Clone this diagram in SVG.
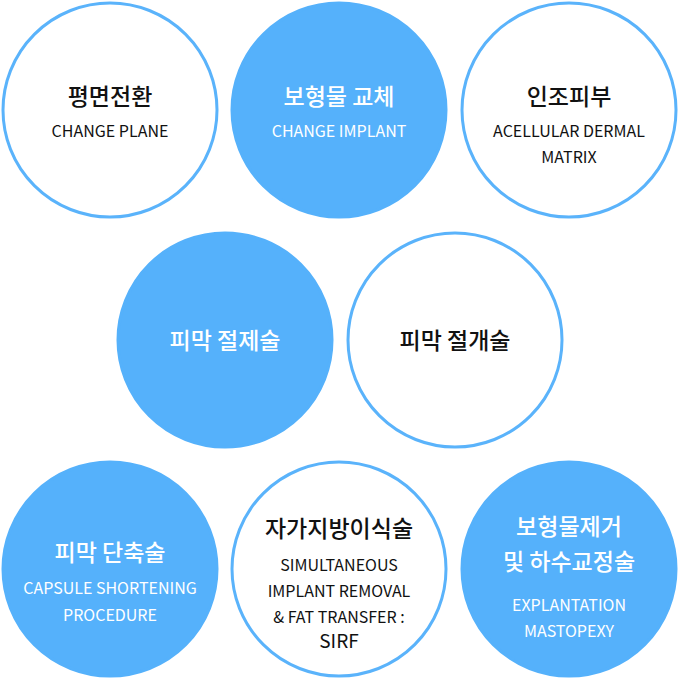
<svg xmlns="http://www.w3.org/2000/svg" width="680" height="679" viewBox="0 0 680 679">
<style>
.o{fill:#fff;stroke:#5ab3fb;stroke-width:3}
.f{fill:#55b1fb;stroke:#55b1fb;stroke-width:3}
text{font-family:"Noto Sans CJK KR","Noto Sans",sans-serif;text-anchor:middle}
.k{font-size:23px;font-weight:500}
.e{font-size:16px}
.d{fill:#111}
.w{fill:#fff}
</style>
<rect width="680" height="679" fill="#fff"/>
<g id="n1"><circle class="o" cx="110" cy="110" r="107"/><text class="k d" x="110" y="105">평면전환</text><text class="e d" x="110" y="137">CHANGE PLANE</text></g>
<g id="n2"><circle class="f" cx="339" cy="110" r="107"/><text class="k w" x="339" y="105">보형물 교체</text><text class="e w" x="339" y="137">CHANGE IMPLANT</text></g>
<g id="n3"><circle class="o" cx="569" cy="110" r="107"/><text class="k d" x="569" y="105">인조피부</text><text class="e d" x="569" y="137">ACELLULAR DERMAL</text><text class="e d" x="569" y="163">MATRIX</text></g>
<g id="n4"><circle class="f" cx="225" cy="340" r="107"/><text class="k w" x="225" y="349">피막 절제술</text></g>
<g id="n5"><circle class="o" cx="455" cy="340" r="107"/><text class="k d" x="455" y="349">피막 절개술</text></g>
<g id="n6"><circle class="f" cx="110" cy="569" r="107"/><text class="k w" x="110" y="561">피막 단축술</text><text class="e w" x="110" y="594">CAPSULE SHORTENING</text><text class="e w" x="110" y="621">PROCEDURE</text></g>
<g id="n7"><circle class="o" cx="339" cy="569" r="107"/><text class="k d" x="339" y="537">자가지방이식술</text><text class="e d" x="339" y="571">SIMULTANEOUS</text><text class="e d" x="339" y="597">IMPLANT REMOVAL</text><text class="e d" x="339" y="623">&amp; FAT TRANSFER :</text><text class="d" x="339" y="648" font-size="19">SIRF</text></g>
<g id="n8"><circle class="f" cx="569" cy="569" r="107"/><text class="k w" x="569" y="535">보형물제거</text><text class="k w" x="569" y="570">및 하수교정술</text><text class="e w" x="569" y="611">EXPLANTATION</text><text class="e w" x="569" y="637">MASTOPEXY</text></g>
<g id="connectors"/>
</svg>
